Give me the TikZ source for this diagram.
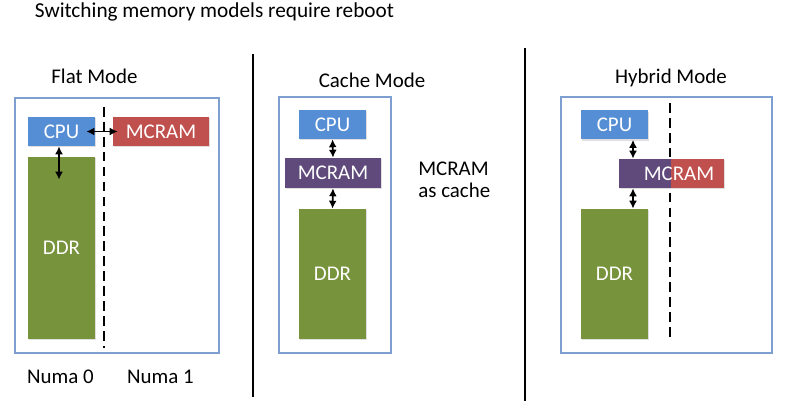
\documentclass[tikz,border=0pt]{standalone}
\usepackage{fontspec}
\setmainfont{Carlito}
\usetikzlibrary{arrows.meta, positioning, calc, shadows}
\definecolor{cpublue}{RGB}{85,142,213}
\definecolor{mcramred}{RGB}{192,80,77}
\definecolor{mcrampurple}{RGB}{96,74,123}
\definecolor{ddrgreen}{RGB}{119,147,60}
\definecolor{frameblue}{RGB}{126,160,208}
\def\px{0.02cm}

\begin{document}
\begin{tikzpicture}[x=0.02cm, y=-0.02cm,
  font=\fontsize{11.9}{12.5}\selectfont,
  frame/.style={draw=frameblue, line width=0.6pt, fill=white, inner sep=0,
    drop shadow={shadow xshift=0.7pt, shadow yshift=-0.7pt, opacity=0.25}},
  block/.style={inner sep=0, text=white,
    drop shadow={shadow xshift=0.7pt, shadow yshift=-0.7pt, opacity=0.25}},
  biarrow/.style={{Latex[length=4.5pt,width=4.5pt]}-{Latex[length=4.5pt,width=4.5pt]}, line width=1pt},
  numaline/.style={dash pattern=on 5.5pt off 3pt, line width=1.6pt},
  sepline/.style={line width=1.7pt}]
\useasboundingbox (0,0) rectangle (789,401);

\node[font=\fontsize{12.1}{14}\selectfont] (title) at (214.5,12) {Switching memory models require reboot};

% separators
\coordinate (sepAtop) at (253,54);
\coordinate (sepAbot) at (253,397);
\coordinate (sepBtop) at (525,48);
\coordinate (sepBbot) at (525,401);
\draw[sepline] (sepAtop) -- (sepAbot);
\draw[sepline] (sepBtop) -- (sepBbot);

% flat mode
\node (flattitle) at (94.5,76) {Flat Mode};
\node[frame, minimum width=204*\px, minimum height=255*\px] (flatbox) at (117,225.5) {};
\coordinate (flatnumatop) at (104,107);
\coordinate (flatnumabot) at (104,348);
\draw[numaline] (flatnumatop) -- (flatnumabot);
\node[block, fill=cpublue, minimum width=67*\px, minimum height=29*\px] (flatcpu) at (61.5,131.5) {CPU};
\node[block, fill=mcramred, minimum width=96*\px, minimum height=29*\px] (flatmcram) at (161,131.5) {MCRAM};
\node[block, fill=ddrgreen, minimum width=67*\px, minimum height=182*\px] (flatddr) at (61.5,248) {DDR};
\draw[biarrow] ([xshift=-9*\px]flatcpu.east) -- ([xshift=5*\px]flatmcram.west);
\draw[biarrow] ([xshift=-2.5*\px]flatcpu.south) -- ([xshift=-2.5*\px,yshift=-23*\px]flatddr.north);
\node (numa0) at (60.5,377) {Numa 0};
\node (numa1) at (160.5,377) {Numa 1};

% cache mode
\node (cachetitle) at (372,80) {Cache Mode};
\node[frame, minimum width=112*\px, minimum height=256*\px] (cachebox) at (335,225) {};
\node[block, fill=cpublue, minimum width=67*\px, minimum height=29*\px] (cachecpu) at (332.5,124.5) {CPU};
\node[block, fill=mcrampurple, minimum width=96*\px, minimum height=30*\px] (cachemcram) at (333,173) {MCRAM};
\node[block, fill=ddrgreen, minimum width=67*\px, minimum height=130*\px] (cacheddr) at (332.5,274) {DDR};
\draw[biarrow] (cachecpu.south) -- (cachemcram.north);
\draw[biarrow] (cachemcram.south) -- (cacheddr.north);
\node[align=left, anchor=west, inner sep=0] (cachenote) at (418,180) {MCRAM\\as cache};

% hybrid mode
\node (hybtitle) at (671,78) {Hybrid Mode};
\node[frame, minimum width=211*\px, minimum height=256*\px] (hybbox) at (666.5,225) {};
\coordinate (hybnumatop) at (670,103);
\coordinate (hybnumabot) at (670,340);
\draw[numaline] (hybnumatop) -- (hybnumabot);
\node[block, fill=cpublue, minimum width=67*\px, minimum height=29*\px] (hybcpu) at (614.5,125) {CPU};
\node[block, fill=mcrampurple, minimum width=52*\px, minimum height=29*\px] (hybmcleft) at (645,173.5) {};
\node[block, fill=mcramred, minimum width=53*\px, minimum height=29*\px] (hybmcright) at (697.5,173.5) {};
\node[inner sep=0, text=white] (hybmcram) at (679,173.5) {MCRAM};
\node[block, fill=ddrgreen, minimum width=67*\px, minimum height=130*\px] (hybddr) at (614.5,274) {DDR};
\draw[biarrow] ([xshift=18.5*\px]hybcpu.south) -- ([xshift=18.5*\px]hybcpu.south |- hybmcleft.north);
\draw[biarrow] ([xshift=18.5*\px]hybddr.north |- hybmcleft.south) -- ([xshift=18.5*\px]hybddr.north);
\end{tikzpicture}
\end{document}
